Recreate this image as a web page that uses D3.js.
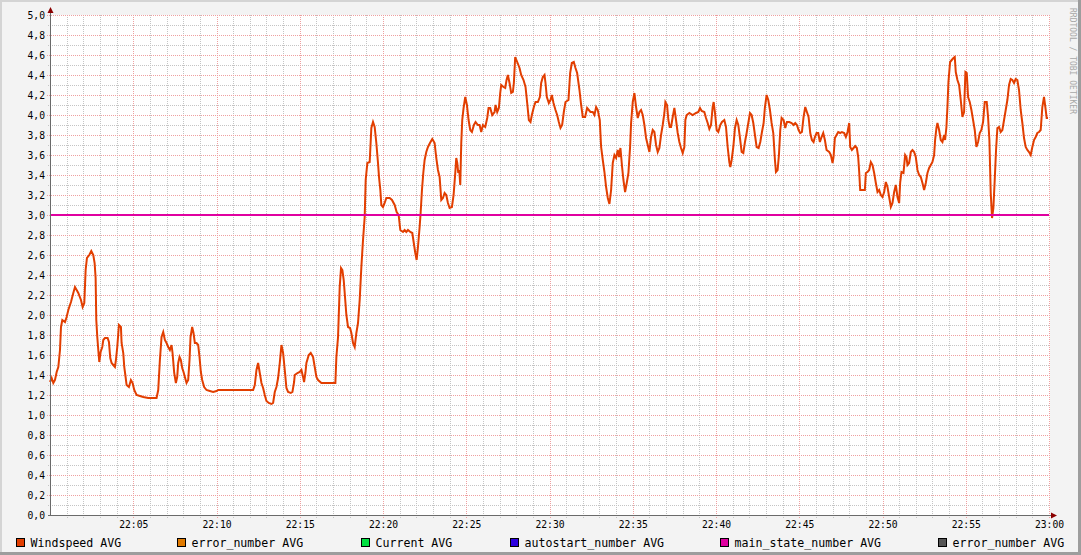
<!DOCTYPE html>
<html><head><meta charset="utf-8">
<script src="https://cdn.jsdelivr.net/npm/d3@7"></script>
<style>html,body{margin:0;padding:0;background:#f3f3f3}svg{display:block}</style>
</head><body><svg id="c" width="1081" height="555"></svg>
<script>
// ---- data (minutes after 22:00, value) ----
const windMinutes = [0.00,0.10,0.20,0.30,0.40,0.50,0.60,0.66,0.74,0.90,1.00,1.10,1.26,1.40,1.50,1.60,1.70,1.86,1.96,2.06,2.14,2.22,2.36,2.48,2.60,2.68,2.74,2.78,2.84,2.90,2.96,3.04,3.14,3.20,3.30,3.46,3.54,3.62,3.70,3.80,3.90,3.96,4.04,4.14,4.26,4.30,4.40,4.46,4.54,4.60,4.74,4.86,4.96,5.06,5.20,5.40,5.60,5.90,6.40,6.50,6.60,6.70,6.80,6.90,7.00,7.10,7.20,7.30,7.36,7.46,7.56,7.64,7.70,7.78,7.86,7.94,8.02,8.10,8.20,8.30,8.38,8.44,8.54,8.62,8.70,8.80,8.90,8.98,9.06,9.14,9.26,9.40,9.60,9.80,10.00,10.10,11.70,
12.2,12.3,12.4,12.5,12.6,12.7,12.8,12.9,13.0,13.14,13.3,13.4,13.5,13.6,13.7,13.8,13.9,14.0,14.1,14.2,14.3,14.46,14.56,14.66,14.7,14.86,15.0,15.1,15.2,15.26,15.34,15.4,15.54,15.66,15.8,15.9,16.0,16.1,16.3,17.14,17.2,17.3,17.4,17.48,17.56,17.64,17.7,17.8,17.9,18.02,18.1,18.2,18.3,18.4,18.5,18.6,18.7,18.8,18.9,18.96,19.06,19.2,19.3,19.4,19.5,19.6,19.7,19.76,19.84,19.9,20.0,20.1,20.2,20.4,20.54,20.7,20.82,20.94,21.04,21.2,21.3,21.4,21.5,21.64,21.76,21.84,21.94,22.02,22.1,22.2,22.26,22.34,22.42,22.5,22.6,22.7,22.82,22.96,23.1,23.2,23.3,23.4,23.5,23.6,23.7,
23.8,23.9,24.0,24.14,24.24,24.34,24.4,24.46,24.52,24.58,24.64,24.7,24.76,24.84,24.94,25.04,25.14,25.24,25.34,25.46,25.56,25.7,25.8,25.9,26.0,26.14,26.26,26.34,26.44,26.56,26.7,26.76,26.86,26.96,27.04,27.1,27.24,27.34,27.42,27.5,27.6,27.7,27.8,27.86,27.94,28.06,28.2,28.3,28.44,28.56,28.66,28.76,28.86,28.94,29.06,29.16,29.3,29.42,29.5,29.6,29.7,29.76,29.84,29.96,30.06,30.14,30.24,30.36,30.46,30.56,30.66,30.76,30.86,30.96,31.14,31.24,31.34,31.46,31.56,31.66,31.8,31.9,32.0,32.14,32.26,32.36,32.46,32.6,32.7,32.8,32.9,33.02,33.1,33.2,33.3,33.4,33.5,33.6,33.7,33.8,33.9,34.0,34.1,34.18,34.26,34.36,34.44,34.54,34.64,34.74,34.84,34.9,35.0,35.1,35.2,35.3,35.4,35.5,35.6,35.7,
35.8,35.9,36.0,36.1,36.2,36.3,36.4,36.5,36.6,36.7,36.8,36.9,36.96,37.06,37.14,37.22,37.3,37.4,37.5,37.6,37.7,37.8,37.9,38.0,38.1,38.16,38.24,38.4,38.6,38.8,38.94,39.04,39.14,39.3,39.4,39.5,39.6,39.7,39.8,39.86,39.94,40.04,40.14,40.26,40.36,40.5,40.6,40.7,40.8,40.86,40.94,41.04,41.14,41.24,41.34,41.44,41.54,41.64,41.74,41.84,41.94,42.04,42.14,42.24,42.34,42.44,42.56,42.66,42.76,42.86,42.94,43.04,43.14,43.24,43.34,43.44,43.54,43.6,43.7,43.78,43.86,43.94,44.06,44.16,44.26,44.4,44.54,44.66,44.76,44.86,44.96,45.06,45.16,45.26,45.36,45.46,45.56,45.66,45.76,45.86,45.94,46.04,46.14,46.24,46.34,46.44,46.54,46.64,46.8,46.9,47.0,47.06,47.14,47.24,47.34,47.46,47.56,47.7,
47.8,47.9,48.0,48.06,48.16,48.26,48.36,48.46,48.54,48.6,48.66,48.8,48.94,49.0,49.1,49.2,49.3,49.4,49.5,49.6,49.7,49.8,49.9,50.0,50.1,50.2,50.3,50.4,50.5,50.6,50.7,50.8,50.9,51.0,51.06,51.14,51.26,51.36,51.44,51.5,51.6,51.7,51.8,51.9,52.0,52.1,52.2,52.3,52.4,52.5,52.6,52.7,52.8,52.9,53.0,53.1,53.16,53.24,53.3,53.4,53.5,53.6,53.7,53.76,53.84,53.9,53.96,54.06,54.16,54.26,54.34,54.4,54.5,54.6,54.7,54.8,54.9,54.98,55.06,55.14,55.24,55.34,55.44,55.54,55.64,55.74,55.84,55.94,56.04,56.14,56.26,56.34,56.42,56.5,56.58,56.66,56.74,56.82,56.9,57.0,57.1,57.2,57.3,57.4,57.5,57.6,57.7,57.8,57.9,58.0,58.1,58.2,58.3,58.4,58.5,58.6,58.7,58.8,58.9,59.0,59.1,59.2,59.3,59.4,59.5,59.6,59.7,59.78,59.86,59.94];
const windValues = [1.33,1.37,1.32,1.35,1.43,1.48,1.65,1.88,1.95,1.93,1.98,2.05,2.13,2.22,2.28,2.25,2.22,2.15,2.08,2.12,2.45,2.57,2.60,2.64,2.60,2.52,2.37,1.95,1.78,1.65,1.53,1.63,1.68,1.75,1.77,1.77,1.73,1.57,1.52,1.50,1.48,1.55,1.68,1.90,1.88,1.72,1.62,1.48,1.38,1.30,1.28,1.35,1.32,1.25,1.20,1.19,1.18,1.17,1.17,1.25,1.55,1.78,1.83,1.75,1.72,1.68,1.65,1.70,1.62,1.42,1.32,1.38,1.52,1.58,1.55,1.47,1.43,1.38,1.32,1.35,1.55,1.78,1.88,1.82,1.72,1.72,1.70,1.58,1.43,1.35,1.28,1.25,1.24,1.23,1.24,1.25,1.25,
1.25,1.30,1.45,1.52,1.42,1.32,1.27,1.20,1.14,1.12,1.11,1.12,1.23,1.28,1.37,1.52,1.70,1.62,1.45,1.27,1.23,1.22,1.23,1.33,1.40,1.42,1.43,1.45,1.38,1.33,1.42,1.52,1.60,1.62,1.58,1.48,1.38,1.35,1.32,1.32,1.58,1.78,2.28,2.47,2.45,2.35,2.22,2.00,1.88,1.87,1.82,1.72,1.68,1.82,1.92,2.15,2.48,2.75,2.98,3.35,3.52,3.53,3.87,3.93,3.88,3.72,3.52,3.38,3.25,3.10,3.08,3.12,3.17,3.17,3.15,3.10,3.03,3.00,2.85,2.83,2.85,2.83,2.85,2.83,2.82,2.73,2.62,2.55,2.68,2.88,3.02,3.25,3.42,3.55,3.63,3.68,3.72,3.76,3.72,3.57,3.45,3.38,3.15,3.17,3.22,
3.20,3.12,3.07,3.08,3.20,3.42,3.57,3.52,3.42,3.45,3.30,3.72,3.95,4.07,4.18,4.10,3.95,3.85,3.83,3.90,3.93,3.90,3.90,3.83,3.90,3.88,3.97,4.07,4.07,4.00,4.03,4.10,4.03,4.07,4.22,4.30,4.28,4.27,4.35,4.40,4.32,4.22,4.23,4.32,4.58,4.53,4.47,4.40,4.35,4.28,4.12,3.95,3.93,4.00,4.08,4.13,4.13,4.18,4.32,4.38,4.40,4.32,4.18,4.12,4.15,4.20,4.12,4.05,4.00,3.93,3.87,3.90,4.03,4.13,4.15,4.42,4.52,4.53,4.47,4.42,4.25,4.10,3.98,3.98,4.07,4.05,4.03,4.03,4.00,4.08,4.05,3.95,3.68,3.55,3.43,3.28,3.17,3.11,3.25,3.52,3.60,3.57,3.65,3.58,3.67,3.48,3.35,3.23,3.32,3.42,3.68,3.92,4.13,4.22,4.08,3.97,4.03,4.05,4.00,3.90,
3.77,3.70,3.63,3.78,3.85,3.83,3.70,3.63,3.67,3.80,3.90,4.02,4.13,4.10,3.95,3.88,3.88,3.98,4.07,3.95,3.82,3.73,3.67,3.62,3.68,3.95,4.00,4.02,4.00,4.02,4.03,4.07,4.04,4.03,3.97,3.92,3.86,3.90,4.08,4.13,4.02,3.85,3.83,3.90,3.93,3.95,3.88,3.68,3.53,3.48,3.55,3.68,3.87,3.95,3.90,3.77,3.63,3.62,3.73,3.82,3.92,4.02,4.00,3.92,3.80,3.68,3.67,3.73,3.83,3.92,4.08,4.20,4.15,4.05,3.92,3.82,3.55,3.43,3.45,3.60,3.85,3.97,3.95,3.87,3.93,3.93,3.92,3.90,3.92,3.90,3.85,3.82,3.83,3.98,4.08,4.03,3.98,3.82,3.75,3.73,3.78,3.82,3.82,3.73,3.78,3.82,3.75,3.65,3.63,3.60,3.52,3.58,3.77,3.80,3.83,3.82,3.83,3.82,
3.78,3.83,3.92,3.68,3.65,3.67,3.69,3.67,3.58,3.43,3.25,3.25,3.25,3.42,3.43,3.45,3.53,3.50,3.42,3.32,3.23,3.25,3.20,3.18,3.23,3.33,3.28,3.18,3.08,3.12,3.23,3.30,3.18,3.12,3.32,3.43,3.42,3.60,3.58,3.50,3.52,3.63,3.65,3.63,3.58,3.45,3.40,3.38,3.32,3.25,3.32,3.42,3.47,3.50,3.53,3.60,3.75,3.87,3.92,3.85,3.75,3.73,3.80,3.75,3.88,4.08,4.33,4.53,4.55,4.57,4.58,4.43,4.35,4.30,4.15,3.98,4.03,4.43,4.42,4.18,4.13,4.05,3.95,3.85,3.68,3.73,3.82,3.85,3.93,4.13,4.13,3.98,3.75,3.22,2.97,3.07,3.35,3.65,3.87,3.88,3.83,3.85,3.95,4.05,4.15,4.30,4.36,4.35,4.32,4.36,4.35,4.25,4.05,3.92,3.77,3.68,3.65,3.63,3.60,3.68,3.75,3.78,3.82,3.83,3.85,4.08,4.18,4.08,3.97,3.97];
const mainStateMinutes = [0, 60];
const mainStateValues = [3.0, 3.0];
const yTickValues = [0,0.2,0.4,0.6,0.8,1.0,1.2,1.4,1.6,1.8,2.0,2.2,2.4,2.6,2.8,3.0,3.2,3.4,3.6,3.8,4.0,4.2,4.4,4.6,4.8,5.0];
const xTickLabels = ["22:05","22:10","22:15","22:20","22:25","22:30","22:35","22:40","22:45","22:50","22:55","23:00"];
const legendLabels = ["Windspeed AVG","error_number AVG","Current AVG","autostart_number AVG","main_state_number AVG","error_number AVG"];
const legendColors = ["#e23e00","#e07a00","#00e040","#2c00e0","#e000a0","#555555"];

// ---- layout ----
const W = 1081, H = 555;
const svg = d3.select("#c");
const mono = "'DejaVu Sans Mono', monospace";
const t0 = new Date(2024, 0, 1, 22, 0, 0), t1 = new Date(2024, 0, 1, 23, 0, 0);
const toDate = m => new Date(t0.getTime() + m * 60000);
const x = d3.scaleTime().domain([t0, t1]).range([50, 1049]);
const y = d3.scaleLinear().domain([0, 5]).range([515, 15]);
const px = v => Math.round(v) + 0.5;

// background & 3D border
svg.append("rect").attr("width", W).attr("height", H).attr("fill", "#f3f3f3");
svg.append("rect").attr("x", 0).attr("y", 0).attr("width", W).attr("height", 2).attr("fill", "#d4d4d4");
svg.append("rect").attr("x", 0).attr("y", 0).attr("width", 2).attr("height", H).attr("fill", "#d4d4d4");
svg.append("rect").attr("x", W - 3).attr("y", 0).attr("width", 3).attr("height", H).attr("fill", "#9d9d9d");
svg.append("rect").attr("x", 0).attr("y", H - 3).attr("width", W).attr("height", 3).attr("fill", "#9d9d9d");

// plot canvas
svg.append("rect").attr("x", 51).attr("y", 15).attr("width", 999).attr("height", 500).attr("fill", "#ffffff");

const grid = svg.append("g");
const minorC = "#c4c4c4", majorC = "#eea0a0";
// minor vertical (each minute)
const minuteTicks = d3.timeMinute.range(d3.timeMinute.offset(t0, 1), d3.timeMinute.offset(t1, 1));
minuteTicks.filter(t => t.getMinutes() % 5 !== 0).forEach(t => {
  grid.append("line").attr("x1", px(x(t))).attr("x2", px(x(t))).attr("y1", 15).attr("y2", 518)
    .attr("stroke", minorC).attr("stroke-dasharray", "1,1");
});
// minor horizontal (0.1)
d3.range(1, 50).filter(i => i % 2 === 1).forEach(i => {
  const yy = px(y(i / 10));
  grid.append("line").attr("x1", 48).attr("x2", 1050).attr("y1", yy).attr("y2", yy)
    .attr("stroke", minorC).attr("stroke-dasharray", "1,1");
});
// major horizontal
yTickValues.forEach(v => {
  if (v === 0) return;
  const yy = px(y(v));
  grid.append("line").attr("x1", 47).attr("x2", 1050).attr("y1", yy).attr("y2", yy)
    .attr("stroke", majorC).attr("stroke-dasharray", "1,1");
});
// major vertical
const fmt = d3.timeFormat("%H:%M");
const majorTimes = minuteTicks.filter(t => xTickLabels.includes(fmt(t)));
majorTimes.forEach(t => {
  grid.append("line").attr("x1", px(x(t))).attr("x2", px(x(t))).attr("y1", 15).attr("y2", 519)
    .attr("stroke", majorC).attr("stroke-dasharray", "1,1");
});

// series
const line = d3.line().x(d => x(d[0])).y(d => y(d[1]));
svg.append("path")
  .datum(windMinutes.map((m, i) => [toDate(m), windValues[i]]))
  .attr("d", line).attr("fill", "none").attr("stroke", legendColors[0])
  .attr("stroke-width", 2).attr("stroke-linejoin", "miter");
svg.append("path")
  .datum(mainStateMinutes.map((m, i) => [toDate(m), mainStateValues[i]]))
  .attr("d", line).attr("fill", "none").attr("stroke", legendColors[4]).attr("stroke-width", 2);

// axes lines
svg.append("line").attr("x1", 50.5).attr("x2", 50.5).attr("y1", 12).attr("y2", 516)
  .attr("stroke", "#6a6a6a").attr("stroke-width", 1);
svg.append("line").attr("x1", 48).attr("x2", 1052).attr("y1", 515.5).attr("y2", 515.5)
  .attr("stroke", "#6a6a6a").attr("stroke-width", 1);
svg.append("path").attr("d", "M47.5,13 L53.5,13 L50.5,7 Z").attr("fill", "#8b0000");
svg.append("path").attr("d", "M1051,512.5 L1051,518.5 L1057,515.5 Z").attr("fill", "#8b0000");

// y labels via axis
const yAxis = d3.axisLeft(y).tickValues(yTickValues).tickSize(0).tickPadding(0)
  .tickFormat(v => d3.format(".1f")(v).replace(".", ","));
const gy = svg.append("g").attr("transform", "translate(45,0)").call(yAxis);
gy.select(".domain").remove();
gy.selectAll("text").attr("font-family", mono).attr("font-size", "9.7px").attr("fill", "#000").attr("dy", "0.35em").attr("x", 0);

// x labels via axis
const xAxis = d3.axisBottom(x).tickValues(majorTimes).tickSize(0).tickPadding(0).tickFormat(fmt);
const gx = svg.append("g").attr("transform", "translate(0,525)").call(xAxis);
gx.select(".domain").remove();
gx.selectAll("text").attr("font-family", mono).attr("font-size", "9.7px").attr("fill", "#000").attr("dy", "0.35em").attr("y", 0);

// legend
const legendX = [16, 177, 361, 510, 720, 938];
legendLabels.forEach((lab, i) => {
  svg.append("rect").attr("x", legendX[i] + 0.5).attr("y", 538.5).attr("width", 8).attr("height", 8)
    .attr("fill", legendColors[i]).attr("stroke", "#000").attr("stroke-width", 1);
  svg.append("text").attr("x", legendX[i] + 14.5).attr("y", 543).attr("dy", "0.35em")
    .attr("font-family", mono).attr("font-size", "11.6px").attr("fill", "#000").text(lab);
});

// watermark
svg.append("text").attr("transform", "translate(1070,8) rotate(90)")
  .attr("font-family", mono).attr("font-size", "8px").attr("fill", "#a8a8a8")
  .text("RRDTOOL / TOBI OETIKER");
</script></body></html>
